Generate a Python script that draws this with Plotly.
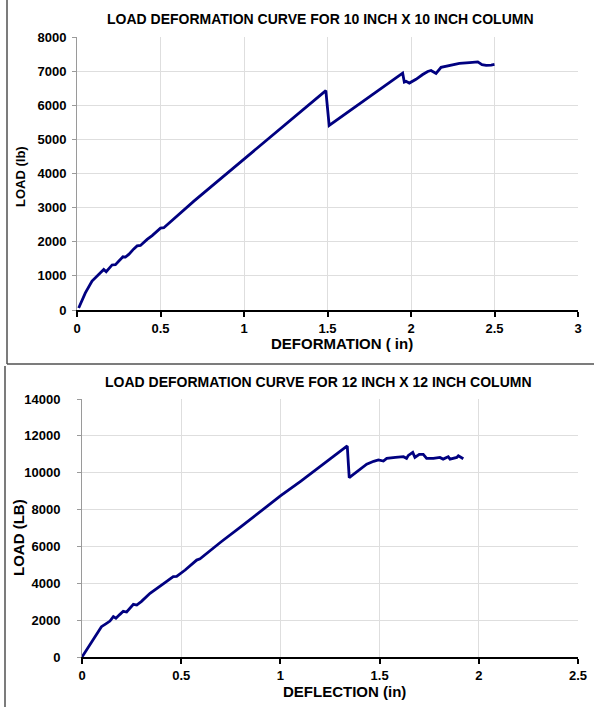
import plotly.graph_objects as go

W, H = 594, 707

# ---- data: 10 inch x 10 inch column ----
deformation_10 = [0.01, 0.05, 0.09, 0.12, 0.14, 0.16, 0.175, 0.19, 0.21, 0.23, 0.25, 0.275, 0.29,
                  0.31, 0.34, 0.36, 0.38, 0.40, 0.42, 0.45, 0.48, 0.50, 0.52, 0.55, 0.60, 0.70,
                  0.80, 0.90, 1.00, 1.10, 1.20, 1.30, 1.40, 1.49, 1.51, 1.60, 1.70, 1.80, 1.90,
                  1.95, 1.96, 1.97, 1.99, 2.03, 2.07, 2.10, 2.12, 2.15, 2.18, 2.23, 2.29, 2.35,
                  2.40, 2.425, 2.45, 2.48, 2.50]
load_10 = [60, 500, 850, 1000, 1080, 1190, 1120, 1200, 1320, 1330, 1430, 1560, 1550,
           1630, 1790, 1880, 1890, 1990, 2070, 2180, 2320, 2400, 2410, 2540, 2770, 3190,
           3600, 4010, 4420, 4830, 5240, 5650, 6050, 6430, 5410, 5720, 6070, 6410, 6760,
           6940, 6680, 6700, 6650, 6760, 6900, 6990, 7020, 6930, 7110, 7170, 7230, 7250,
           7270, 7190, 7170, 7175, 7195]

# ---- data: 12 inch x 12 inch column ----
deflection_12 = [0, 0.05, 0.098, 0.12, 0.141, 0.158, 0.171, 0.19, 0.208, 0.225, 0.259, 0.276,
                 0.30, 0.343, 0.376, 0.42, 0.46, 0.477, 0.52, 0.578, 0.595, 0.65, 0.70, 0.80,
                 0.90, 1.00, 1.10, 1.20, 1.30, 1.337, 1.347, 1.39, 1.435, 1.47, 1.494, 1.519,
                 1.536, 1.58, 1.62, 1.636, 1.645, 1.667, 1.678, 1.70, 1.72, 1.737, 1.771,
                 1.804, 1.82, 1.846, 1.855, 1.889, 1.897, 1.922]
load_12 = [0, 850, 1645, 1800, 1950, 2190, 2100, 2300, 2480, 2440, 2860, 2820,
           3020, 3455, 3730, 4050, 4360, 4380, 4720, 5260, 5330, 5830, 6240, 7060,
           7900, 8740, 9520, 10330, 11150, 11450, 9730, 10100, 10460, 10620, 10690, 10630,
           10780, 10830, 10870, 10780, 10940, 11100, 10830, 11000, 11000, 10780, 10780,
           10830, 10740, 10870, 10740, 10830, 10920, 10760]

title_10 = "LOAD DEFORMATION CURVE FOR 10 INCH X 10 INCH COLUMN"
title_12 = "LOAD DEFORMATION CURVE FOR 12 INCH X 12 INCH COLUMN"

LINE = "#000080"
FONT = "Arial, Liberation Sans, sans-serif"


def px(x):
    return x / W


def py(y):
    return 1 - y / H


fig = go.Figure()
fig.add_trace(go.Scatter(x=deformation_10, y=load_10, mode="lines", xaxis="x", yaxis="y",
                         line=dict(color=LINE, width=2.8), showlegend=False))
fig.add_trace(go.Scatter(x=deflection_12, y=load_12, mode="lines", xaxis="x2", yaxis="y2",
                         line=dict(color=LINE, width=2.8), showlegend=False))

common_x = dict(showline=True, linecolor="black", linewidth=2, ticks="outside", ticklen=5,
                tickwidth=2, tickcolor="black", showgrid=True, gridcolor="#dedede", gridwidth=1,
                zeroline=False, automargin=False,
                tickfont=dict(family=FONT, size=13, color="black", weight="bold"))
common_y = dict(showline=True, linecolor="#9a9a9a", linewidth=1, ticks="outside", ticklen=4,
                tickcolor="#9a9a9a", showgrid=True, gridcolor="#dedede", gridwidth=1,
                zeroline=False, tickformat="d", automargin=False,
                tickfont=dict(family=FONT, size=13, color="black", weight="bold"))

fig.update_layout(
    width=W, height=H, margin=dict(l=0, r=0, t=0, b=0, autoexpand=False),
    paper_bgcolor="white", plot_bgcolor="white",
    xaxis=dict(domain=[px(77), px(578)], range=[0, 3], dtick=0.5, anchor="y", **common_x),
    yaxis=dict(domain=[py(310), py(37)], range=[0, 8000], dtick=1000, anchor="x",
               ticklabelstandoff=3, **common_y),
    xaxis2=dict(domain=[px(82), px(578)], range=[0, 2.5], dtick=0.5, anchor="y2", **common_x),
    yaxis2=dict(domain=[py(657), py(399)], range=[0, 14000], dtick=2000, anchor="x2",
                ticklabelstandoff=14, **common_y),
)

def ann(text, x, y, size, angle=0):
    return dict(text=text, x=px(x), y=py(y), xref="paper", yref="paper", showarrow=False,
                xanchor="center", yanchor="middle", textangle=angle,
                font=dict(family=FONT, size=size, color="black", weight="bold"))

fig.update_layout(annotations=[
    ann(title_10, 320, 19, 14),
    ann("LOAD (lb)", 20, 177, 13, -90),
    ann("DEFORMATION ( in)", 342, 344, 15),
    ann(title_12, 318, 382, 14),
    ann("LOAD (LB)", 18, 538, 15, -90),
    ann("DEFLECTION (in)", 344, 691, 15),
])

border = dict(color="#505050", width=1.5)
fig.update_layout(shapes=[
    dict(type="line", xref="paper", yref="paper", x0=px(7), x1=px(7), y0=py(0), y1=py(364), line=border),
    dict(type="line", xref="paper", yref="paper", x0=px(7), x1=px(594), y0=py(364), y1=py(364), line=border),
    dict(type="line", xref="paper", yref="paper", x0=px(5), x1=px(5), y0=py(366), y1=py(707), line=border),
])

fig.write_html("out.html")
